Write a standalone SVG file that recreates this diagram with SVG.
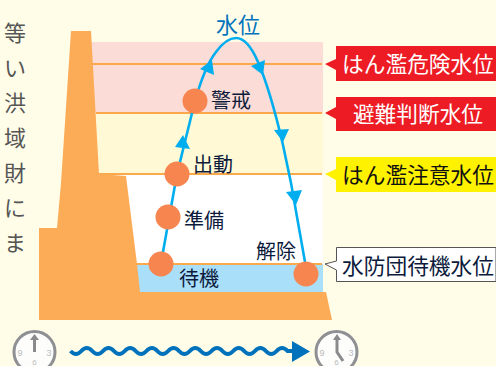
<svg xmlns="http://www.w3.org/2000/svg" width="496" height="366" viewBox="0 0 496 366">
<style>
text{font-family:"Noto Sans CJK JP","Liberation Sans",sans-serif}
.lv{fill:none;stroke:#fba94a;stroke-width:2}
.c{fill:#f6854f}
.fl{fill:none;stroke:#00aeef;stroke-width:2.6}
.ah{fill:#00aeef}
.l{font-size:20px;fill:#0c1a3c}
.v{font-size:22px;fill:#555;text-anchor:middle}
.tag{font-size:21.700px;text-anchor:middle}
.clock{fill:#fdfdfb;stroke:#8f9094;stroke-width:3}
.n{font-size:9px;fill:#bbb;text-anchor:middle;font-family:"Liberation Sans",sans-serif}
.h{fill:none;stroke:#8a8a8c;stroke-width:3}
</style>
<rect width="496" height="366" fill="#fffde8"/>
<g id="zones">
<rect x="85" y="42" width="238" height="71" fill="#fcdcd6"/>
<rect x="90" y="113" width="233" height="61" fill="#fff9d6"/>
<rect x="100" y="174" width="223" height="90" fill="#fff"/>
<rect x="130" y="264" width="193" height="28" fill="#aadffa"/>
</g>
<g id="levels">
<path class="lv" d="M91 64H322M96 113H322M99 174H322M137 264H322"/>
</g>
<g id="dam">
<path fill="#fcab57" d="M71 31H91L99 174L126 176L137 264L140 292H326L332 320H39V228H57L61 183Z"/>
</g>
<g id="connectors">
<path class="fl" d="M161 263L177 174L195 101C201 80 208 62 216 52C224 41 230 38 236 38C244 38 252 48 258 62C268 85 276 115 283 145L291 183L305 262"/>
<path class="ah" d="M212 60L200 69L214 75Z"/>
<path class="ah" d="M183 135L175 147L190 149Z"/>
<path class="ah" d="M263 75L251 66L265 60Z"/>
<path class="ah" d="M283 142L274 130L289 129Z"/>
<path class="ah" d="M296 205L286 192L302 190Z"/>
</g>
<g id="n-keikai"><circle class="c" cx="195" cy="101" r="12.500"/><text class="l" x="211" y="108">警戒</text></g>
<g id="n-shutsudo"><circle class="c" cx="177" cy="174" r="12.500"/><text class="l" x="193" y="172">出動</text></g>
<g id="n-junbi"><circle class="c" cx="168" cy="217" r="12.500"/><text class="l" x="184" y="228">準備</text></g>
<g id="n-taiki"><circle class="c" cx="161" cy="264" r="12.500"/><text class="l" x="179" y="286">待機</text></g>
<g id="n-kaijo"><circle class="c" cx="306" cy="274" r="12.500"/><text class="l" x="256" y="259">解除</text></g>
<g id="title"><text x="238" y="33" font-size="22" fill="#0072bc" text-anchor="middle">水位</text></g>
<g id="side">
<text class="v" x="15" y="41">等</text><text class="v" x="15" y="76">い</text><text class="v" x="15" y="111">洪</text><text class="v" x="15" y="146">域</text><text class="v" x="15" y="181">財</text><text class="v" x="15" y="216">に</text><text class="v" x="15" y="251">ま</text>
</g>
<g id="tag1"><path fill="#ed1c24" d="M336 46H496V81H336V70L325 64L336 59Z"/><text class="tag" x="418" y="72" fill="#fff">はん濫危険水位</text></g>
<g id="tag2"><path fill="#ed1c24" d="M336 97H496V131H336V119L325 113L336 107Z"/><text class="tag" x="418" y="122" fill="#fff">避難判断水位</text></g>
<g id="tag3"><path fill="#fff200" d="M336 157H496V192H336V180L325 174L336 169Z"/><text class="tag" x="418" y="183" fill="#111">はん濫注意水位</text></g>
<g id="tag4"><path fill="#fff" stroke="#555" d="M336.500 247.500H496V281.500H336.500V270L325 264L336.500 261Z"/><text class="tag" x="418" y="274" fill="#0c1a3c">水防団待機水位</text></g>
<g id="clock1"><circle class="clock" cx="34.500" cy="352" r="20.500"/><text class="n" x="20" y="356">9</text><text class="n" x="49" y="356">3</text><text class="n" x="34.500" y="365" style="font-size:8px">6</text><path class="h" d="M34.500 352V338"/><path fill="#8a8a8c" d="M34.500 334L30 340H39Z"/></g>
<g id="timeline"><path fill="none" stroke="#0072bc" stroke-width="4" d="M70.500 351q5.400 6 10.850 0t10.850 0t10.850 0t10.850 0t10.850 0t10.850 0t10.850 0t10.850 0t10.850 0t10.850 0t10.850 0t10.850 0t10.850 0t10.850 0t10.850 0t10.850 0t10.850 0t10.850 0t10.850 0t10.850 0L294 351"/><path fill="#0072bc" d="M292 341L310 351.500L292 362Z"/></g>
<g id="clock2"><circle class="clock" cx="336.500" cy="352" r="20.500"/><text class="n" x="322" y="356">9</text><text class="n" x="351" y="356">3</text><text class="n" x="336.500" y="365" style="font-size:8px">6</text><path class="h" d="M337 338V352L343 361"/><path fill="#8a8a8c" d="M337 334L333 340H341Z"/></g>
</svg>
